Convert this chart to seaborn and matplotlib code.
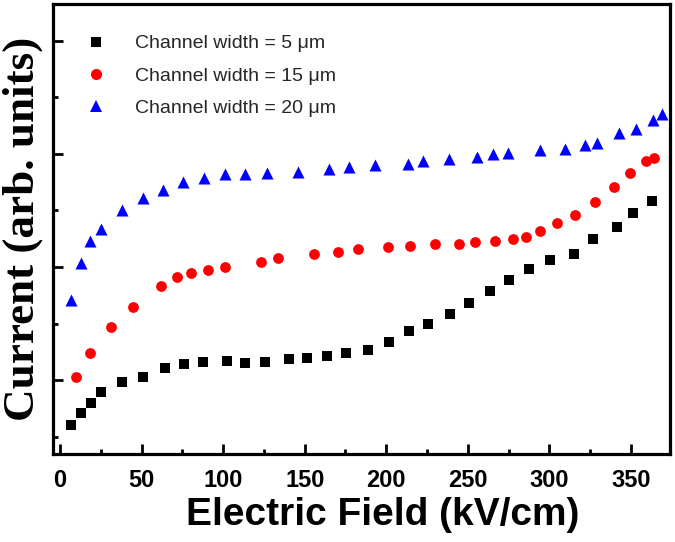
import numpy as np
import pandas as pd
import matplotlib
matplotlib.use("Agg")
import matplotlib.pyplot as plt
import seaborn as sns
from matplotlib.ticker import MultipleLocator

# ---- data (y in arbitrary units) ----
x_5 = [6.5, 12.7, 18.8, 25.3, 38.2, 51.1, 64.2, 76.1, 87.9, 102.6, 113.5, 125.8,
       140.1, 151.7, 163.4, 175.6, 188.5, 201.8, 214.1, 225.8, 239.3, 250.9, 263.8,
       275.5, 287.7, 300.4, 314.9, 326.6, 341.5, 351.1, 362.8]
y_5 = [0.603, 0.711, 0.80, 0.897, 0.985, 1.029, 1.103, 1.138, 1.161, 1.168, 1.153, 1.161,
       1.185, 1.197, 1.212, 1.236, 1.265, 1.333, 1.432, 1.50, 1.583, 1.682, 1.786,
       1.883, 1.98, 2.065, 2.118, 2.25, 2.353, 2.48, 2.583]

x_15 = [9.6, 18.4, 31.1, 45.0, 61.8, 72.0, 80.6, 91.0, 101.0, 123.1, 133.7, 155.8,
        170.7, 182.8, 200.8, 214.5, 229.9, 244.8, 254.6, 266.7, 277.5, 285.7, 294.5,
        304.7, 315.8, 328.2, 339.4, 349.7, 359.3, 364.4]
y_15 = [1.024, 1.241, 1.465, 1.647, 1.83, 1.912, 1.947, 1.977, 2.0, 2.044, 2.079, 2.112,
        2.13, 2.162, 2.177, 2.183, 2.20, 2.206, 2.22, 2.227, 2.244, 2.265, 2.318,
        2.388, 2.462, 2.574, 2.706, 2.83, 2.933, 2.962]

x_20 = [6.5, 12.7, 18.4, 25.0, 37.8, 51.1, 63.2, 75.5, 88.3, 101.0, 113.3, 126.8,
        145.6, 165.0, 177.3, 193.3, 213.5, 222.7, 238.7, 255.6, 265.6, 274.8, 294.5,
        309.8, 321.9, 329.3, 342.5, 353.2, 363.4, 369.1]
y_20 = [1.706, 2.035, 2.229, 2.339, 2.507, 2.609, 2.683, 2.75, 2.789, 2.824, 2.824, 2.833,
        2.838, 2.862, 2.883, 2.898, 2.913, 2.933, 2.957, 2.971, 2.995, 3.01, 3.03,
        3.045, 3.074, 3.098, 3.183, 3.215, 3.30, 3.353]

labels = ["Channel width = 5 \u03bcm", "Channel width = 15 \u03bcm", "Channel width = 20 \u03bcm"]
x_ticks = [0, 50, 100, 150, 200, 250, 300, 350]

series = [(x_5, y_5), (x_15, y_15), (x_20, y_20)]
colors = ["#000000", "#ff0000", "#0000ff"]
markers = ["s", "o", "^"]
sizes = [50, 60, 75]

sns.set_theme(style="ticks")
plt.rcParams["font.family"] = ["Liberation Sans", "DejaVu Sans"]

fig = plt.figure(figsize=(6.75, 5.42), dpi=100)
ax = fig.add_axes([0.078, 0.1624, 0.9148, 0.8302])

for (xs, ys), lab, c, m, s in zip(series, labels, colors, markers, sizes):
    df = pd.DataFrame({"x": xs, "y": ys})
    sns.scatterplot(data=df, x="x", y="y", ax=ax, color=c, marker=m, s=s,
                    linewidth=0, label=lab, legend=False)

ax.set_xlim(-4.5, 374)
ax.set_ylim(0.347, 4.324)
ax.set_xticks(x_ticks)
ax.xaxis.set_minor_locator(MultipleLocator(25))
ax.yaxis.set_major_locator(MultipleLocator(1))
ax.yaxis.set_minor_locator(MultipleLocator(0.5))
ax.set_yticklabels([])
ax.tick_params(axis="both", which="major", direction="in", length=7.5, width=2,
               color="black")
ax.tick_params(axis="both", which="minor", direction="in", length=3.6, width=2,
               color="black")
ax.tick_params(axis="y", which="both", left=True, labelleft=False)
ax.tick_params(axis="x", which="major", pad=11)
for lbl in ax.get_xticklabels():
    lbl.set_fontsize(17)
    lbl.set_fontweight("bold")
    lbl.set_color("black")

for sp in ax.spines.values():
    sp.set_linewidth(2.3)
    sp.set_color("black")
    sp.set_visible(True)

ax.set_xlabel("Electric Field (kV/cm)", fontsize=28, fontweight="bold", color="black")
ax.xaxis.set_label_coords(0.534, -0.095)
ax.set_ylabel("Current (arb. units)", fontsize=32.5, fontweight="bold", color="black",
              family=["Liberation Serif", "DejaVu Serif"])
ax.yaxis.set_label_coords(-0.016, 0.5)

handles = [plt.Line2D([], [], linestyle="none", marker=m, color=c, markersize=ms,
                      markeredgewidth=0)
           for m, c, ms in zip(markers, colors, [7, 8, 9])]
leg = ax.legend(handles, labels, loc="upper left", bbox_to_anchor=(0.026, 0.949),
                borderaxespad=0, frameon=False, fontsize=14, handletextpad=1.0,
                labelspacing=0.76, handlelength=2.0, borderpad=0.4)

fig.savefig("out.png", dpi=100)
